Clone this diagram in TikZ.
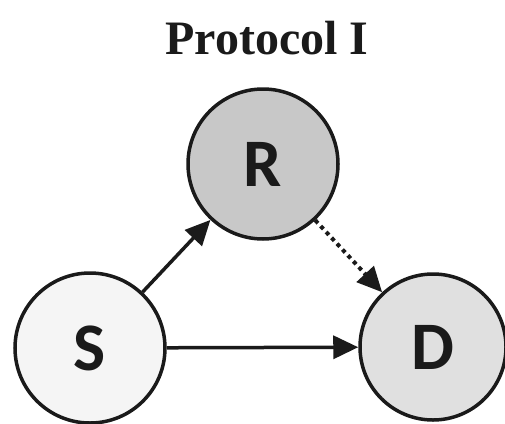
\documentclass[tikz,border=0pt]{standalone}
\usepackage{fontspec}
\setmainfont{Liberation Serif}
\newfontfamily\labelfont{Carlito}
\usetikzlibrary{arrows.meta}
\definecolor{ink}{HTML}{1A1A1A}
\definecolor{srcfill}{HTML}{F5F5F5}
\definecolor{relfill}{HTML}{C8C8C8}
\definecolor{dstfill}{HTML}{E0E0E0}
\tikzset{
  station/.style={circle, draw=ink, line width=3.5pt, minimum size=150pt, inner sep=0pt,
    font=\labelfont\bfseries\fontsize{68}{68}\selectfont, text=ink},
  link/.style={draw=ink, line width=3.5pt, -{Triangle[length=25pt,width=23pt]}},
  weaklink/.style={link, line width=4pt, dash pattern=on 4pt off 4pt}
}
\begin{document}
\begin{tikzpicture}[x=1pt, y=-1pt]
  \useasboundingbox (0,0) rectangle (505,423);
  \node[font=\bfseries\fontsize{48}{48}\selectfont, text=ink] (title) at (267,38) {Protocol I};
  \node[station, fill=srcfill] (S) at (90,348) {S};
  \node[station, fill=relfill] (R) at (263,164) {R};
  \node[station, fill=dstfill, minimum size=146pt] (D) at (433,347) {D};
  \draw[link] (S) -- (R);
  \draw[link] (S) -- (D);
  \draw[weaklink] (R) -- (D);
\end{tikzpicture}
\end{document}
